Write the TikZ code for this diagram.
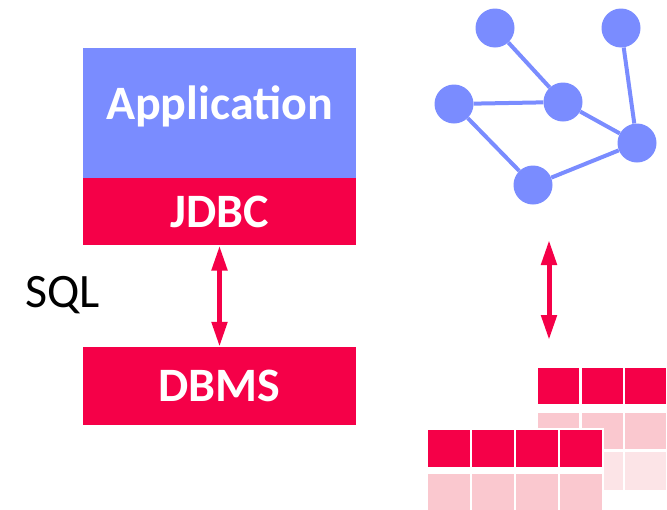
\documentclass[tikz,border=0pt]{standalone}
\usepackage{fontspec}
\setmainfont{Carlito}
\usetikzlibrary{arrows.meta,positioning}
\definecolor{azul}{RGB}{122,140,255}
\definecolor{rojo}{RGB}{245,0,72}
\definecolor{rosa}{RGB}{250,200,207}
\definecolor{rosaclaro}{RGB}{252,228,231}
\tikzset{
  caja/.style={rectangle, fill=rojo, minimum width=273pt, inner sep=0pt,
    text=white, text height=31pt, text depth=0pt,
    font=\fontsize{48}{52}\selectfont\bfseries},
  vertice/.style={circle, fill=azul, minimum size=39pt, inner sep=0pt},
  arista/.style={azul, line width=4pt},
  flecha/.style={rojo, line width=5pt,
    {Triangle[length=25pt,width=15pt]}-{Triangle[length=25pt,width=15pt]}},
}
\begin{document}
\begin{tikzpicture}[x=1pt,y=-1pt]
    \useasboundingbox (0,0) rectangle (667,509);

    % Pila de la aplicacion
    \node[caja, fill=azul, minimum height=130pt, text depth=19pt] (app) at (219.5,113) {Application};
    \node[caja, minimum height=67pt, below=0pt of app] (jdbc) {JDBC};
    \node[caja, minimum height=78pt] (dbms) at (219.5,386) {DBMS};
    \node[inner sep=0pt, text height=30pt, text depth=0pt,
      font=\fontsize{48}{52}\selectfont] (sql) at (62.5,292) {SQL};

    % Flecha SQL
    \draw[flecha] (jdbc) -- (dbms);

    % Grafo
    \node[vertice] (v1) at (495,28) {};
    \node[vertice] (v2) at (621,28) {};
    \node[vertice] (v3) at (454,104) {};
    \node[vertice] (v4) at (563,102) {};
    \node[vertice] (v5) at (637,143) {};
    \node[vertice] (v6) at (533,185) {};
    \draw[arista] (v1) -- (v4);
    \draw[arista] (v3) -- (v4);
    \draw[arista] (v4) -- (v5);
    \draw[arista] (v2) -- (v5);
    \draw[arista] (v3) -- (v6);
    \draw[arista] (v6) -- (v5);

    % Flecha grafo - tablas
    \coordinate (arriba) at (549,240);
    \coordinate (abajo) at (549,340);
    \draw[flecha] (arriba) -- (abajo);

    % Tabla de atras
    \foreach \i in {0,1,2}{
      \fill[rojo] ({538+43.5*\i},368) rectangle ++(41,36);
      \fill[rosa] ({538+43.5*\i},413) rectangle ++(41,36);
      \fill[rosaclaro] ({538+43.5*\i},452) rectangle ++(41,38);
    }

    % Tabla de delante
    \fill[white] (425,427.5) rectangle (603.5,509);
    \foreach \i in {0,...,3}{
      \fill[rojo] ({428+44*\i},430) rectangle ++(42,37);
      \fill[rosa] ({428+44*\i},474) rectangle ++(42,36);
    }
\end{tikzpicture}
\end{document}
